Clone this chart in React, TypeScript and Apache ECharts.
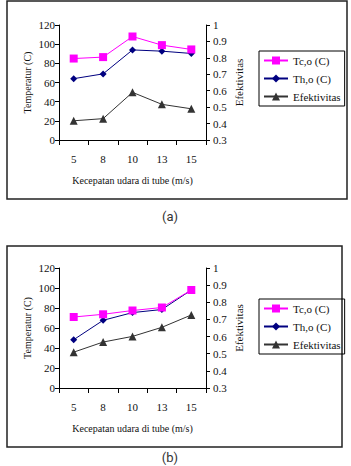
import React, { useEffect, useRef } from "react";
import * as echarts from "echarts";

const categories = ["5", "8", "10", "13", "15"];
const tcoA = [85, 86.5, 108, 99, 94.5];
const thoA = [64, 69, 94, 92.7, 90.3];
const effA = [0.417, 0.43, 0.59, 0.517, 0.49];
const tcoB = [71, 73.7, 77.5, 80.5, 98];
const thoB = [48.3, 67.7, 75.4, 78.5, 98];
const effB = [0.509, 0.568, 0.601, 0.654, 0.726];

const names = ["Tc,o (C)", "Th,o (C)", "Efektivitas"];
const serif = "Liberation Serif";
const txt = "#111";

export default function App() {
  const ref = useRef<HTMLDivElement>(null);
  useEffect(() => {
    if (!ref.current) return;
    const chart = echarts.init(ref.current, null, { renderer: "svg" });
    const axisLine = { show: true, lineStyle: { color: "#000", width: 1 } };
    const mkX = (gridIndex: number) => ({
      type: "category",
      gridIndex,
      data: categories,
      boundaryGap: true,
      axisLine,
      axisTick: { show: true, length: 5, lineStyle: { color: "#000" } },
      axisLabel: { margin: 13, fontFamily: serif, fontSize: 11, color: txt },
      name: "Kecepatan udara di tube (m/s)",
      nameLocation: "middle",
      nameGap: 35,
      nameTextStyle: { fontFamily: serif, fontSize: 10, color: txt },
      splitLine: { show: false },
    });
    const mkYL = (gridIndex: number) => ({
      type: "value",
      gridIndex,
      min: 0,
      max: 120,
      interval: 20,
      position: "left",
      axisLine,
      axisTick: { show: true, length: 4, lineStyle: { color: "#000" } },
      axisLabel: { margin: 4, fontFamily: serif, fontSize: 11, color: txt },
      splitLine: { show: false },
      name: "Temperatur (C)",
      nameLocation: "middle",
      nameGap: 27,
      nameRotate: 90,
      nameTextStyle: { fontFamily: serif, fontSize: 10, color: txt },
    });
    const mkYR = (gridIndex: number) => ({
      type: "value",
      gridIndex,
      min: 0.3,
      max: 1,
      interval: 0.1,
      position: "right",
      axisLine,
      axisTick: { show: true, length: 4, lineStyle: { color: "#000" } },
      axisLabel: {
        margin: 7,
        fontFamily: serif,
        fontSize: 11,
        color: txt,
        formatter: (v: number) => String(Math.round(v * 10) / 10),
      },
      splitLine: { show: false },
      name: "Efektivitas",
      nameLocation: "middle",
      nameGap: 27,
      nameRotate: 90,
      nameTextStyle: { fontFamily: serif, fontSize: 11, color: txt },
    });
    const styles = [
      { color: "#FF00FF", symbol: "rect", size: 8 },
      { color: "#000080", symbol: "diamond", size: 7 },
      { color: "#333333", symbol: "triangle", size: 8 },
    ];
    const mkSeries = (
      xi: number,
      yl: number,
      yr: number,
      data: number[][]
    ) =>
      data.map((d, i) => ({
        type: "line",
        name: names[i],
        xAxisIndex: xi,
        yAxisIndex: i === 2 ? yr : yl,
        data: d,
        symbol: styles[i].symbol,
        symbolSize: styles[i].size,
        showSymbol: true,
        lineStyle: { color: styles[i].color, width: 1 },
        itemStyle: { color: styles[i].color },
        z: 3 - i,
      }));
    const mkLegend = (top: number) => ({
      orient: "vertical",
      left: 259,
      top,
      data: names,
      padding: [4, 4, 4, 4],
      itemGap: 7,
      itemWidth: 24,
      itemHeight: 10,
      borderColor: "#000",
      borderWidth: 1,
      textStyle: { fontFamily: serif, fontSize: 11, color: txt },
      selectedMode: false,
    });
    chart.setOption({
      animation: false,
      backgroundColor: "#fff",
      grid: [
        { left: 59, top: 25, width: 147, height: 115 },
        { left: 59, top: 268, width: 147, height: 120 },
      ],
      xAxis: [mkX(0), mkX(1)],
      yAxis: [mkYL(0), mkYR(0), mkYL(1), mkYR(1)],
      legend: [mkLegend(51), mkLegend(299)],
      series: [
        ...mkSeries(0, 0, 1, [tcoA, thoA, effA]),
        ...mkSeries(1, 2, 3, [tcoB, thoB, effB]),
      ],
      graphic: [
        {
          type: "rect",
          shape: { x: 7, y: 1, width: 340, height: 198 },
          style: { fill: "none", stroke: "#222", lineWidth: 1.5 },
          z: -1,
        },
        {
          type: "rect",
          shape: { x: 7, y: 246, width: 335, height: 201 },
          style: { fill: "none", stroke: "#222", lineWidth: 1.5 },
          z: -1,
        },
        {
          type: "text",
          x: 170,
          y: 216,
          style: {
            text: "(a)",
            fontFamily: "Roboto",
            fontSize: 13,
            fill: "#333",
            align: "center",
            verticalAlign: "middle",
          },
        },
        {
          type: "text",
          x: 170,
          y: 457,
          style: {
            text: "(b)",
            fontFamily: "Roboto",
            fontSize: 13,
            fill: "#333",
            align: "center",
            verticalAlign: "middle",
          },
        },
      ],
    });
    return () => chart.dispose();
  }, []);
  return (
    <div
      ref={ref}
      style={{ position: "fixed", left: 0, top: 0, width: 351, height: 466 }}
    />
  );
}
